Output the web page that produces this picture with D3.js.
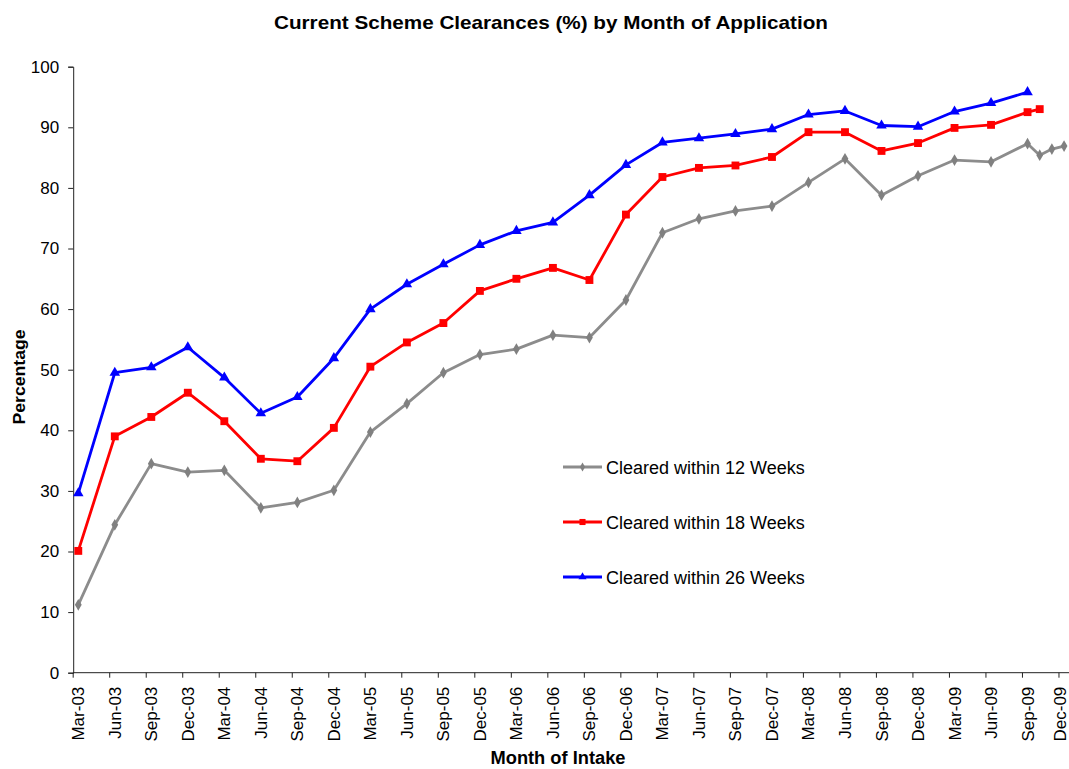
<!DOCTYPE html>
<html>
<head>
<meta charset="utf-8">
<script src="https://cdn.jsdelivr.net/npm/d3@7"></script>
<style>
  body { margin: 0; background: #fff; }
  text { font-family: "Liberation Sans", Arial, sans-serif; fill: #000; }
</style>
</head>
<body>
<div id="vis"></div>
<script>
// month labels for the quarterly ticks (Mar-03 .. Dec-09)
const TICK_LABELS = ["Mar-03","Jun-03","Sep-03","Dec-03","Mar-04","Jun-04","Sep-04","Dec-04",
  "Mar-05","Jun-05","Sep-05","Dec-05","Mar-06","Jun-06","Sep-06","Dec-06",
  "Mar-07","Jun-07","Sep-07","Dec-07","Mar-08","Jun-08","Sep-08","Dec-08",
  "Mar-09","Jun-09","Sep-09","Dec-09"];

// month index (0 = Mar-03) of each data point
const MONTHS_12 = [0,3,6,9,12,15,18,21,24,27,30,33,36,39,42,45,48,51,54,57,60,63,66,69,72,75,78,79,80,81];
const MONTHS_18 = [0,3,6,9,12,15,18,21,24,27,30,33,36,39,42,45,48,51,54,57,60,63,66,69,72,75,78,79];
const MONTHS_26 = [0,3,6,9,12,15,18,21,24,27,30,33,36,39,42,45,48,51,54,57,60,63,66,69,72,75,78];

const WEEKS_12 = [11.2,24.4,34.5,33.1,33.4,27.2,28.1,30.1,39.7,44.4,49.5,52.5,53.4,55.7,55.3,61.5,
  72.6,74.9,76.2,77.0,80.9,84.8,78.8,82.0,84.6,84.3,87.3,85.4,86.4,86.9];
const WEEKS_18 = [20.1,39.0,42.2,46.2,41.5,35.3,34.9,40.4,50.5,54.5,57.7,63.0,65.0,66.8,64.8,75.6,
  81.8,83.3,83.7,85.1,89.2,89.2,86.1,87.4,89.9,90.4,92.5,93.0];
const WEEKS_26 = [29.6,49.5,50.4,53.7,48.7,42.8,45.5,51.9,60.0,64.1,67.4,70.6,72.9,74.3,78.8,83.8,
  87.5,88.2,88.9,89.7,92.1,92.7,90.3,90.1,92.6,94.0,95.8];

const SERIES_NAMES = ["Cleared within 12 Weeks", "Cleared within 18 Weeks", "Cleared within 26 Weeks"];
const Y_TICKS = [0,10,20,30,40,50,60,70,80,90,100];

const WIDTH = 1069;
const HEIGHT = 769;

const SVG = d3.select("#vis").append("svg")
  .attr("width", WIDTH).attr("height", HEIGHT);

// escalas
const escalaX = d3.scaleLinear().domain([-0.5, 81.5]).range([72.2, 72.2 + 82 * 12.17]);
const escalaY = d3.scaleLinear().domain([0, 100]).range([672.7, 66.7]);

const series = [
  { name: SERIES_NAMES[0], color: "#8c8c8c", mark: "#808080", symbol: d3.symbolDiamond, size: 40, data: MONTHS_12.map((m, i) => ({ m, v: WEEKS_12[i] })) },
  { name: SERIES_NAMES[1], color: "#ff0000", mark: "#ff0000", symbol: d3.symbolSquare, size: 62, data: MONTHS_18.map((m, i) => ({ m, v: WEEKS_18[i] })) },
  { name: SERIES_NAMES[2], color: "#0000ff", mark: "#0000ff", symbol: d3.symbolTriangle, size: 48, data: MONTHS_26.map((m, i) => ({ m, v: WEEKS_26[i] })) },
];

// titulo
SVG.append("text")
  .attr("x", 551).attr("y", 29)
  .attr("text-anchor", "middle")
  .attr("textLength", 554).attr("lengthAdjust", "spacingAndGlyphs")
  .style("font-size", "19px").style("font-weight", "bold")
  .text("Current Scheme Clearances (%) by Month of Application");

// eje Y
const ejeY = d3.axisLeft(escalaY).tickValues(Y_TICKS).tickSize(5).tickPadding(9);
const gY = SVG.append("g")
  .attr("transform", `translate(${escalaX(-0.5) + 1}, 0)`)
  .call(ejeY);
gY.select(".domain").attr("stroke", "#222");
gY.selectAll(".tick line").attr("stroke", "#222");
gY.selectAll(".tick text").style("font-size", "17px").style("font-family", "Liberation Sans, Arial, sans-serif");

// eje X
const tickMonths = TICK_LABELS.map((d, i) => i * 3);
const gX = SVG.append("g").attr("class", "ejeX");
gX.append("line")
  .attr("x1", escalaX(-0.5) + 1).attr("x2", WIDTH)
  .attr("y1", escalaY(0)).attr("y2", escalaY(0))
  .attr("stroke", "#222");
gX.selectAll(".tk")
  .data(tickMonths)
  .join("line")
  .attr("class", "tk")
  .attr("x1", d => escalaX(d - 0.5) + 1).attr("x2", d => escalaX(d - 0.5) + 1)
  .attr("y1", escalaY(0)).attr("y2", escalaY(0) + 5)
  .attr("stroke", "#222");
gX.selectAll(".lbl")
  .data(TICK_LABELS)
  .join("text")
  .attr("class", "lbl")
  .attr("transform", (d, i) => `translate(${Math.min(escalaX(i * 3) + 6, WIDTH - 3)}, ${escalaY(0) + 14}) rotate(-90)`)
  .attr("text-anchor", "end")
  .style("font-size", "17px")
  .text(d => d);

// titulos de ejes
SVG.append("text")
  .attr("transform", `translate(25, 377) rotate(-90)`)
  .attr("text-anchor", "middle")
  .attr("textLength", 95).attr("lengthAdjust", "spacingAndGlyphs")
  .style("font-size", "17px").style("font-weight", "bold")
  .text("Percentage");

SVG.append("text")
  .attr("x", 558).attr("y", 764)
  .attr("text-anchor", "middle")
  .attr("textLength", 135).attr("lengthAdjust", "spacingAndGlyphs")
  .style("font-size", "18px").style("font-weight", "bold")
  .text("Month of Intake");

// lineas y marcadores
const linea = d3.line().x(d => escalaX(d.m)).y(d => escalaY(d.v));

series.forEach(s => {
  const g = SVG.append("g");
  g.append("path")
    .datum(s.data)
    .attr("fill", "none")
    .attr("stroke", s.color)
    .attr("stroke-width", 2.8)
    .attr("stroke-linejoin", "round")
    .attr("d", linea);
  g.selectAll("path.mk")
    .data(s.data)
    .join("path")
    .attr("class", "mk")
    .attr("d", d3.symbol().type(s.symbol).size(s.size))
    .attr("transform", d => `translate(${escalaX(d.m)}, ${escalaY(d.v)})`)
    .attr("fill", s.mark);
});

// leyenda
const leyenda = SVG.append("g").attr("transform", "translate(563, 467)");
series.forEach((s, i) => {
  const item = leyenda.append("g").attr("transform", `translate(0, ${i * 55})`);
  item.append("line")
    .attr("x1", 0).attr("x2", 39).attr("y1", 0).attr("y2", 0)
    .attr("stroke", s.color).attr("stroke-width", 2.8);
  item.append("path")
    .attr("d", d3.symbol().type(s.symbol).size(s.size * 0.6))
    .attr("transform", "translate(19.5, 0)")
    .attr("fill", s.mark);
  item.append("text")
    .attr("x", 43).attr("y", 6.5)
    .style("font-size", "18px")
    .text(s.name);
});
</script>
</body>
</html>
